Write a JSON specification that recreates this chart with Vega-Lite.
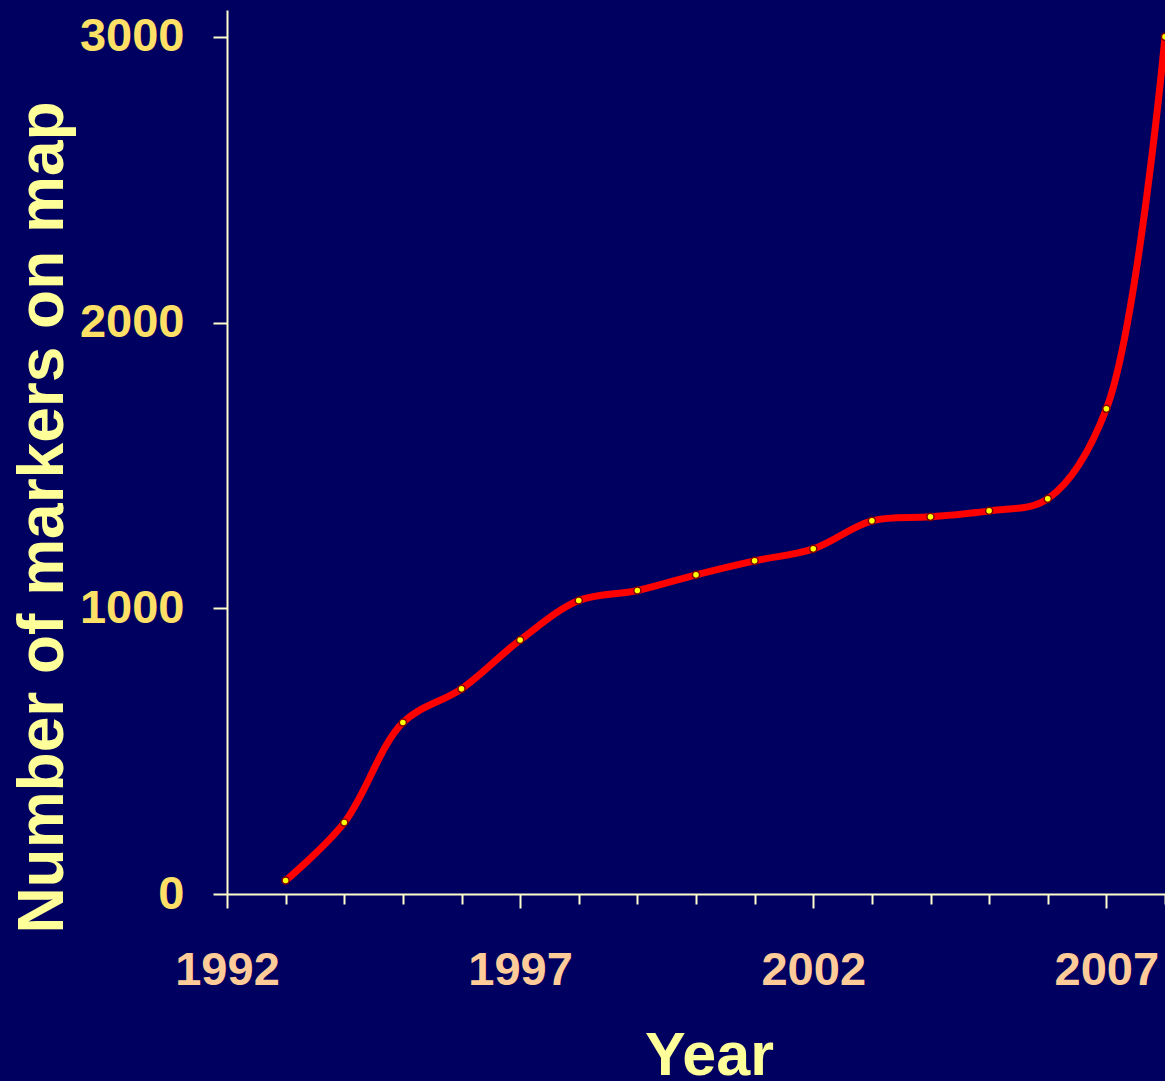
{
  "$schema": "https://vega.github.io/schema/vega-lite/v6.json",
  "width": 938,
  "height": 884,
  "autosize": {"type": "none"},
  "padding": {"left": 227, "top": 10, "right": 0, "bottom": 187},
  "background": "#000060",
  "config": {
    "view": {"stroke": null},
    "axis": {
      "grid": false,
      "domainColor": "#FFFFCC",
      "domainWidth": 2,
      "tickColor": "#FFFFCC",
      "tickWidth": 2,
      "labelFont": "Liberation Sans",
      "labelFontWeight": "bold",
      "titleFont": "Liberation Sans",
      "titleFontWeight": "bold",
      "titleColor": "#FFFF99"
    }
  },
  "data": {
    "values": [
      {"year": 1993, "markers": 47},
      {"year": 1994, "markers": 250},
      {"year": 1995, "markers": 600},
      {"year": 1996, "markers": 718},
      {"year": 1997, "markers": 889},
      {"year": 1998, "markers": 1027},
      {"year": 1999, "markers": 1062},
      {"year": 2000, "markers": 1117},
      {"year": 2001, "markers": 1166},
      {"year": 2002, "markers": 1208},
      {"year": 2003, "markers": 1306},
      {"year": 2004, "markers": 1320},
      {"year": 2005, "markers": 1341},
      {"year": 2006, "markers": 1383},
      {"year": 2007, "markers": 1698},
      {"year": 2008, "markers": 3000}
    ]
  },
  "encoding": {
    "x": {
      "field": "year",
      "type": "quantitative",
      "scale": {"domain": [1992, 2008], "nice": false, "zero": false},
      "axis": {
        "values": [1992, 1993, 1994, 1995, 1996, 1997, 1998, 1999, 2000, 2001, 2002, 2003, 2004, 2005, 2006, 2007, 2008],
        "format": "d",
        "labelExpr": "datum.value % 5 == 2 ? datum.label : ''",
        "tickSize": {"condition": {"test": "datum.value % 5 == 2", "value": 14}, "value": 10},
        "labelPadding": 39,
        "labelFontSize": 47,
        "labelColor": "#FFCC99",
        "labelOverlap": false,
        "labelFlush": false,
        "title": "Year",
        "titleFontSize": 61,
        "titleX": 482,
        "titleY": 180,
        "titleBaseline": "alphabetic",
        "titleAlign": "center"
      }
    },
    "y": {
      "field": "markers",
      "type": "quantitative",
      "scale": {"domain": [0, 3094], "nice": false},
      "axis": {
        "values": [0, 1000, 2000, 3000],
        "format": "d",
        "tickSize": 14,
        "labelPadding": 29,
        "labelFontSize": 47,
        "labelColor": "#FFE066",
        "title": "Number of markers on map",
        "titleFontSize": 64,
        "titleAngle": -90,
        "titleX": -165,
        "titleY": 507,
        "titleBaseline": "alphabetic",
        "titleAlign": "center"
      }
    }
  },
  "layer": [
    {
      "mark": {"type": "line", "interpolate": "catmull-rom", "color": "#FF0000", "strokeWidth": 7, "clip": false}
    },
    {
      "mark": {"type": "point", "filled": true, "fill": "#FFFF00", "stroke": "#800000", "strokeWidth": 1.5, "size": 50, "opacity": 1, "clip": false}
    }
  ]
}
